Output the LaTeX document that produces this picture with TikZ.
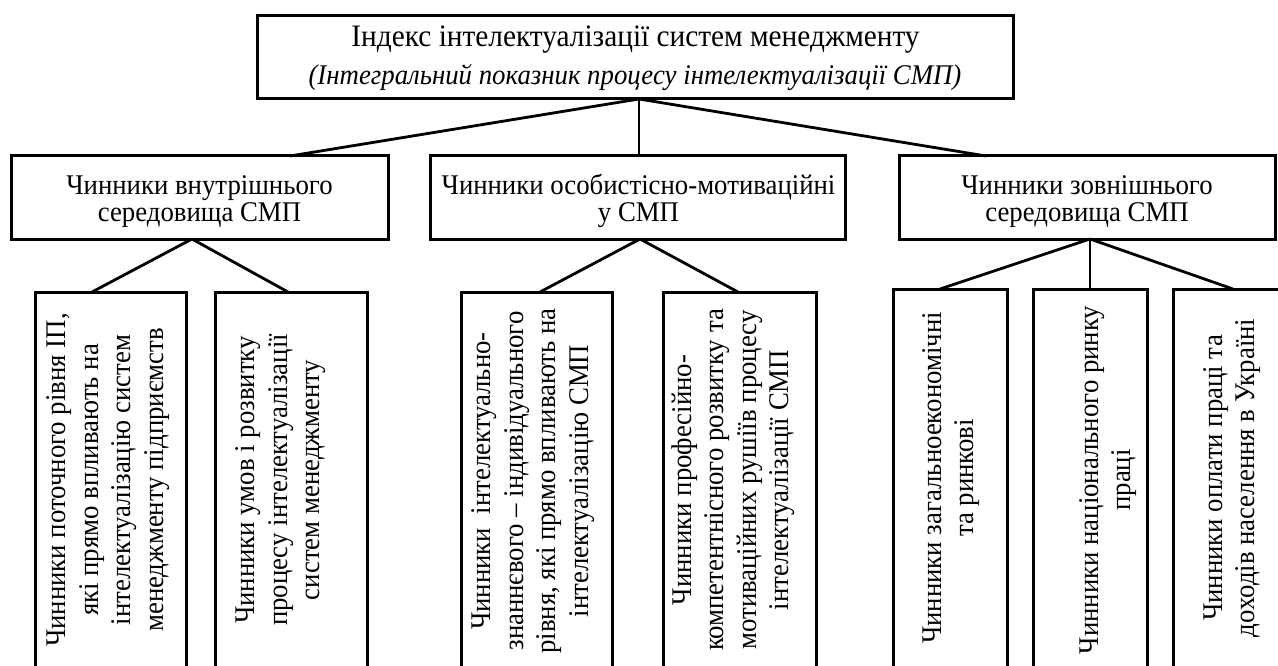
\documentclass[tikz,border=0pt]{standalone}
\usepackage{fontspec}
\setmainfont{Liberation Serif}[FakeStretch=0.94]
\begin{document}
\begin{tikzpicture}[x=1pt,y=-1pt,
  box/.style={draw, line width=3pt, inner sep=0pt, outer sep=0pt},
  link/.style={line width=2.8pt},
  thinlink/.style={line width=1.4pt},
  lbl/.style={anchor=base, inner sep=0pt, font=\fontsize{28.5}{32}\selectfont},
  vtext/.style={rotate=90, align=center, inner sep=0pt, font=\fontsize{28.5}{32.5}\selectfont},
  ]
\useasboundingbox (0,0) rectangle (1278,666);
\clip (0,0) rectangle (1278,666);

% top box
\node[box, minimum width=756pt, minimum height=83pt] (top) at (635,57.5) {};
\node[lbl, font=\fontsize{31.2}{36}\selectfont] (topa) at (635.5,47) {Індекс інтелектуалізації систем менеджменту};
\node[lbl] (topb) at (635,85) {\textit{(Інтегральний показник процесу інтелектуалізації СМП)}};

% level 2 boxes
\node[box, minimum width=377pt, minimum height=83pt] (L2a) at (199.5,197.5) {};
\node[box, minimum width=415pt, minimum height=83pt] (L2b) at (637.5,197.5) {};
\node[box, minimum width=376pt, minimum height=83pt] (L2c) at (1087,197.5) {};
\node[lbl] (L2a1) at (199.5,194.5) {Чинники внутрішнього};
\node[lbl] (L2a2) at (199.5,222) {середовища СМП};
\node[lbl] (L2b1) at (638.5,194.5) {Чинники особистісно-мотиваційні};
\node[lbl] (L2b2) at (638.5,222) {у СМП};
\node[lbl] (L2c1) at (1087,194.5) {Чинники зовнішнього};
\node[lbl] (L2c2) at (1087,222) {середовища СМП};

% level 3 boxes
\node[box, minimum width=151pt, minimum height=388pt] (b1) at (110.5,486) {};
\node[box, minimum width=152pt, minimum height=388pt] (b2) at (291,486) {};
\node[box, minimum width=151pt, minimum height=388pt] (b3) at (536.5,486) {};
\node[box, minimum width=153pt, minimum height=388pt] (b4) at (739.5,486) {};
\node[box, minimum width=114pt, minimum height=391pt] (b5) at (950,484.5) {};
\node[box, minimum width=114pt, minimum height=391pt] (b6) at (1090,484.5) {};
\node[box, minimum width=114pt, minimum height=391pt] (b7) at (1230,484.5) {};

% level 3 texts
\node[vtext] (t1) at (108,480) {Чинники поточного рівня ІП,\\які прямо впливають на\\інтелектуалізацію систем\\менеджменту підприємств};
\node[vtext] (t2) at (281,480) {Чинники умов і розвитку\\процесу інтелектуалізації\\систем менеджменту};
\node[vtext] (t3) at (533,481) {Чинники\ \ інтелектуально-\\знаннєвого – індивідуального\\рівня, які прямо впливають на\\інтелектуалізацію СМП};
\node[vtext] (t4) at (733,480) {Чинники професійно-\\компетентнісного розвитку та\\мотиваційних рушіїв процесу\\інтелектуалізації СМП};
\node[vtext] (t5) at (951,478) {Чинники загальноекономічні\\та ринкові};
\node[vtext] (t6) at (1108,480) {Чинники національного ринку\\праці};
\node[vtext] (t7) at (1232,478) {Чинники оплати праці та\\доходів населення в Україні};

% connectors
\draw[link] ([xshift=4pt]top.south) -- ([xshift=90.5pt]L2a.north);
\draw[thinlink] ([xshift=4pt]top.south) -- ([xshift=1.5pt]L2b.north);
\draw[link] ([xshift=4pt]top.south) -- ([xshift=-101pt]L2c.north);

\draw[link] ([xshift=-7.5pt]L2a.south) -- ([xshift=-18.5pt]b1.north);
\draw[link] ([xshift=-7.5pt]L2a.south) -- ([xshift=-3pt]b2.north);

\draw[link] ([xshift=2.5pt]L2b.south) -- ([xshift=3.5pt]b3.north);
\draw[link] ([xshift=2.5pt]L2b.south) -- ([xshift=-1.5pt]b4.north);

\draw[link] ([xshift=3pt]L2c.south) -- ([xshift=-10pt]b5.north);
\draw[link] ([xshift=3pt]L2c.south) -- (b6.north);
\draw[link] ([xshift=3pt]L2c.south) -- ([xshift=3pt]b7.north);
\end{tikzpicture}
\end{document}
